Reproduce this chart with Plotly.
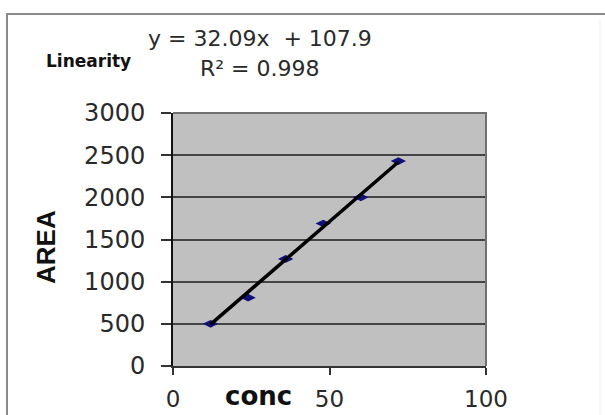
import plotly.graph_objects as go

# Calibration data: concentration vs. peak area
conc = [12, 24, 36, 48, 60, 72]
area = [500, 810, 1270, 1690, 2000, 2430]

# Least-squares line reported on the chart
slope = 32.09
intercept = 107.9
r_squared = 0.998

x_ticks = [0, 50, 100]
y_ticks = [0, 500, 1000, 1500, 2000, 2500, 3000]

W, H = 605, 415
ML, MR, MT, MB = 173, 119, 113, 49
PW, PH = W - ML - MR, H - MT - MB


def px(x):
    """Pixel column -> paper x."""
    return (x - ML) / PW


def py(y):
    """Pixel row -> paper y."""
    return (H - MB - y) / PH


trend_x = [min(conc), max(conc)]
trend_y = [slope * v + intercept for v in trend_x]

fig = go.Figure()
fig.add_trace(go.Scatter(
    x=conc, y=area, mode="markers",
    marker=dict(symbol="diamond-wide", size=11, color="#10107a",
                line=dict(width=0)),
    showlegend=False, hoverinfo="skip",
))
fig.add_trace(go.Scatter(
    x=trend_x, y=trend_y, mode="lines",
    line=dict(color="black", width=3.5),
    showlegend=False, hoverinfo="skip",
))

y_font = dict(family="DejaVu Sans", size=24, color="#2a2a2a")
x_font = dict(family="DejaVu Sans", size=23, color="#2a2a2a")
eq_font = dict(family="DejaVu Sans", size=22, color="#2a2a2a")

fig.update_layout(
    width=W, height=H,
    margin=dict(l=ML, r=MR, t=MT, b=MB, pad=0),
    paper_bgcolor="white",
    plot_bgcolor="#c0c0c0",
    showlegend=False,
    xaxis=dict(
        range=[0, 100], tickvals=x_ticks, ticktext=[str(v) for v in x_ticks],
        showgrid=False, zeroline=False, automargin=False,
        showline=True, linecolor="#333333", linewidth=2,
        ticks="outside", ticklen=7, tickwidth=2, tickcolor="#333333",
        tickfont=x_font, ticklabelstandoff=4,
    ),
    yaxis=dict(
        range=[0, 3000], tickvals=y_ticks, ticktext=[str(v) for v in y_ticks],
        showgrid=True, gridcolor="#444444", gridwidth=2,
        zeroline=False, automargin=False,
        showline=True, linecolor="#111111", linewidth=2,
        ticks="outside", ticklen=10, tickwidth=1.5, tickcolor="#333333",
        tickfont=y_font, ticklabelstandoff=11,
    ),
    shapes=[
        # plot-area frame (top and right in grey)
        dict(type="path", xref="paper", yref="paper",
             path="M 0 1 L 1 1 L 1 0",
             line=dict(color="#707070", width=2)),
        # chart-area border
        dict(type="path", xref="paper", yref="paper",
             path=(f"M {px(7)} {py(H + 5)} L {px(7)} {py(14)} "
                   f"L {px(W + 5)} {py(14)}"),
             line=dict(color="#8a8a8a", width=2)),
        dict(type="line", xref="paper", yref="paper",
             x0=px(600), x1=px(600), y0=py(20), y1=py(H),
             line=dict(color="#ececec", width=1)),
    ],
    annotations=[
        dict(text=f"y = {slope}x  + {intercept}", xref="paper", yref="paper",
             x=px(260), y=py(53), xanchor="center", yanchor="bottom",
             showarrow=False, font=eq_font),
        dict(text=f"R² = {r_squared}", xref="paper", yref="paper",
             x=px(260), y=py(53.5), xanchor="center", yanchor="top",
             showarrow=False, font=eq_font),
        dict(text="<b>Linearity</b>", xref="paper", yref="paper",
             x=px(88), y=py(61), xanchor="center", yanchor="middle",
             showarrow=False, font=dict(family="DejaVu Sans", size=17, color="#111111")),
        dict(text="<b>AREA</b>", xref="paper", yref="paper",
             x=px(46), y=py(247), xanchor="center", yanchor="middle",
             textangle=-90, showarrow=False,
             font=dict(family="Liberation Sans", size=26, color="#111111")),
        dict(text="<b>conc</b>", xref="paper", yref="paper",
             x=px(258), y=py(396), xanchor="center", yanchor="middle",
             showarrow=False, font=dict(family="DejaVu Sans", size=26, color="#111111")),
    ],
)

fig.write_html("out.html")
